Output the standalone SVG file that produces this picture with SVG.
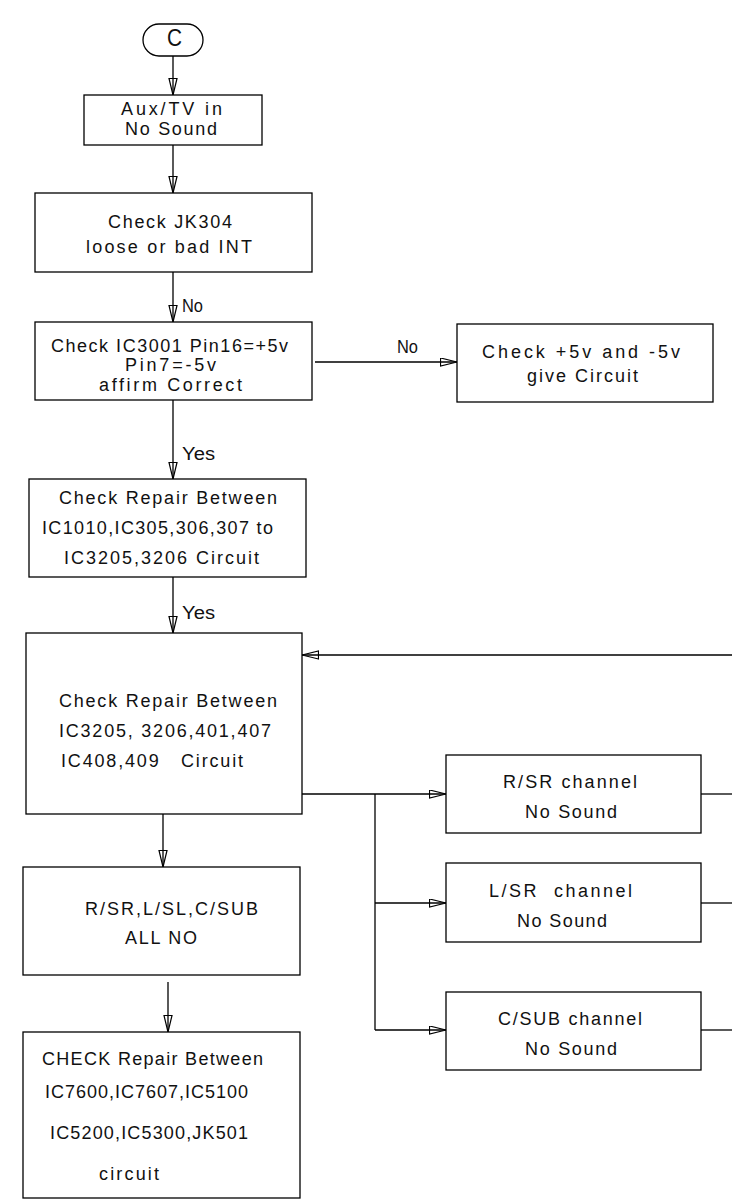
<svg xmlns="http://www.w3.org/2000/svg" width="732" height="1202" viewBox="0 0 732 1202">
<style>
.b,.o{fill:#fff;stroke:#000;stroke-width:1.3}
text{font-family:"Liberation Sans",Arial,sans-serif;font-size:18px;fill:#111}
.c line,.c polyline{stroke:#000;stroke-width:1.3;fill:none}
</style>
<defs>
<marker id="a" markerUnits="userSpaceOnUse" markerWidth="20" markerHeight="12" refX="17" refY="4.5" orient="auto">
<path d="M0.5,0.5 L17,4.5 L0.5,8.5 Z" fill="none" stroke="#000" stroke-width="1.2"/>
</marker>
</defs>
<rect width="732" height="1202" fill="#fff"/>
<g class="c" id="connectors">
<line x1="173" y1="56" x2="173" y2="95" marker-end="url(#a)"/>
<line x1="173" y1="145" x2="173" y2="193" marker-end="url(#a)"/>
<line x1="173" y1="272" x2="173" y2="322" marker-end="url(#a)"/>
<line x1="315" y1="362" x2="457" y2="362" marker-end="url(#a)"/>
<line x1="173" y1="400" x2="173" y2="479" marker-end="url(#a)"/>
<line x1="173" y1="577" x2="173" y2="633" marker-end="url(#a)"/>
<line x1="732" y1="655" x2="302" y2="655" marker-end="url(#a)"/>
<line x1="302" y1="794" x2="446" y2="794" marker-end="url(#a)"/>
<polyline points="375,794 375,1030"/>
<line x1="375" y1="903" x2="446" y2="903" marker-end="url(#a)"/>
<line x1="375" y1="1030" x2="446" y2="1030" marker-end="url(#a)"/>
<line x1="701" y1="794" x2="732" y2="794"/>
<line x1="701" y1="903" x2="732" y2="903"/>
<line x1="701" y1="1030" x2="732" y2="1030"/>
<line x1="163" y1="814" x2="163" y2="867" marker-end="url(#a)"/>
<line x1="168" y1="982" x2="168" y2="1032" marker-end="url(#a)"/>
<text x="182" y="312" textLength="21" lengthAdjust="spacingAndGlyphs">No</text>
<text x="397" y="353" textLength="21" lengthAdjust="spacingAndGlyphs">No</text>
<text x="182" y="460" textLength="33" lengthAdjust="spacingAndGlyphs">Yes</text>
<text x="182" y="619" textLength="33" lengthAdjust="spacingAndGlyphs">Yes</text>
</g>
<g id="start">
<rect class="o" x="143" y="24" width="60" height="32" rx="16"/>
<text x="167" y="46" style="font-size:24px" textLength="15" lengthAdjust="spacingAndGlyphs">C</text>
</g>
<g id="n1">
<rect class="b" x="84" y="95" width="178" height="50"/>
<text x="121" y="115" textLength="101" lengthAdjust="spacing">Aux/TV in</text>
<text x="125" y="135" textLength="92" lengthAdjust="spacing">No Sound</text>
</g>
<g id="n2">
<rect class="b" x="35" y="193" width="277" height="79"/>
<text x="108" y="228" textLength="124" lengthAdjust="spacing">Check JK304</text>
<text x="86" y="253" textLength="166" lengthAdjust="spacing">loose or bad INT</text>
</g>
<g id="n3">
<rect class="b" x="35" y="322" width="277" height="78"/>
<text x="51" y="352" textLength="237" lengthAdjust="spacing">Check IC3001 Pin16=+5v</text>
<text x="125" y="371" textLength="91" lengthAdjust="spacing">Pin7=-5v</text>
<text x="99" y="391" textLength="143" lengthAdjust="spacing">affirm Correct</text>
</g>
<g id="n4">
<rect class="b" x="457" y="324" width="256" height="78"/>
<text x="482" y="358" textLength="198" lengthAdjust="spacing">Check +5v and -5v</text>
<text x="527" y="382" textLength="111" lengthAdjust="spacing">give Circuit</text>
</g>
<g id="n5">
<rect class="b" x="29" y="479" width="277" height="98"/>
<text x="59" y="504" textLength="218" lengthAdjust="spacing">Check Repair Between</text>
<text x="42" y="534" textLength="231" lengthAdjust="spacing">IC1010,IC305,306,307 to</text>
<text x="64" y="564" textLength="195" lengthAdjust="spacing">IC3205,3206 Circuit</text>
</g>
<g id="n6">
<rect class="b" x="26" y="633" width="276" height="181"/>
<text x="59" y="707" textLength="218" lengthAdjust="spacing">Check Repair Between</text>
<text x="59" y="737" textLength="212" lengthAdjust="spacing">IC3205, 3206,401,407</text>
<text x="61" y="767" textLength="182" lengthAdjust="spacing" xml:space="preserve">IC408,409   Circuit</text>
</g>
<g id="n7">
<rect class="b" x="446" y="755" width="255" height="78"/>
<text x="503" y="788" textLength="134" lengthAdjust="spacing">R/SR channel</text>
<text x="525" y="818" textLength="92" lengthAdjust="spacing">No Sound</text>
</g>
<g id="n8">
<rect class="b" x="446" y="863" width="255" height="79"/>
<text x="489" y="897" textLength="143" lengthAdjust="spacing" xml:space="preserve">L/SR  channel</text>
<text x="517" y="927" textLength="90" lengthAdjust="spacing">No Sound</text>
</g>
<g id="n9">
<rect class="b" x="446" y="992" width="255" height="78"/>
<text x="498" y="1025" textLength="144" lengthAdjust="spacing">C/SUB channel</text>
<text x="525" y="1055" textLength="92" lengthAdjust="spacing">No Sound</text>
</g>
<g id="n10">
<rect class="b" x="23" y="867" width="277" height="108"/>
<text x="85" y="915" textLength="173" lengthAdjust="spacing">R/SR,L/SL,C/SUB</text>
<text x="125" y="944" textLength="72" lengthAdjust="spacing">ALL NO</text>
</g>
<g id="n11">
<rect class="b" x="23" y="1032" width="277" height="166"/>
<text x="42" y="1065" textLength="221" lengthAdjust="spacing">CHECK Repair Between</text>
<text x="45" y="1098" textLength="203" lengthAdjust="spacing">IC7600,IC7607,IC5100</text>
<text x="50" y="1139" textLength="198" lengthAdjust="spacing">IC5200,IC5300,JK501</text>
<text x="99" y="1180" textLength="60" lengthAdjust="spacing">circuit</text>
</g>
</svg>
